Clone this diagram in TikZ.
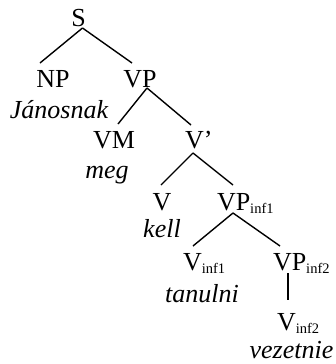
\documentclass[tikz,border=0pt]{standalone}
\usepackage{fontspec}
\setmainfont{Liberation Serif}
\usetikzlibrary{calc}
\newcommand\sbs[1]{\raisebox{-3pt}{\fontsize{14.5}{14.5}\selectfont #1}}
\begin{document}
\begin{tikzpicture}[x=1pt,y=-1pt,
  every node/.style={inner sep=0pt, outer sep=0pt, font=\fontsize{26}{26}\selectfont},
  cat/.style={anchor=base},
  catw/.style={anchor=base west},
  word/.style={anchor=base, font=\fontsize{26}{26}\selectfont\itshape},
  branch/.style={line width=1.4pt}]
\useasboundingbox (0,0) rectangle (335,364);
% categories
\node[cat] (S) at (78.5,26) {S};
\node[cat] (NP) at (53,87) {NP};
\node[cat] (VP) at (140,87) {VP};
\node[cat] (VM) at (114,148) {VM};
\node[catw] (Vp) at (185,148) {V’};
\node[cat] (V) at (162,210) {V};
\node[catw] (VPa) at (217,210) {VP\sbs{inf1}};
\node[catw] (Va) at (183,270) {V\sbs{inf1}};
\node[catw] (VPb) at (273,270) {VP\sbs{inf2}};
\node[catw] (Vb) at (277,330) {V\sbs{inf2}};
% words
\node[word] (w1) at (59,118) {Jánosnak};
\node[word] (w2) at (107,178) {meg};
\node[word] (w3) at (162,237) {kell};
\node[word] (w4) at (202,302) {tanulni};
\node[word] (w5) at (291.5,358) {vezetnie};
% branches
\draw[branch] ($(S.base)+(4,2)$) -- ($(NP.base)+(-13,-24)$);
\draw[branch] ($(S.base)+(4,2)$) -- ($(VP.base)+(-8,-24)$);
\draw[branch] ($(VP.base)+(7,1)$) -- ($(VM.base)+(4,-24)$);
\draw[branch] ($(VP.base)+(7,1)$) -- ($(Vp.base west)+(6,-23)$);
\draw[branch] ($(Vp.base west)+(8,5)$) -- ($(V.base)+(-1,-25)$);
\draw[branch] ($(Vp.base west)+(8,5)$) -- ($(VPa.base west)+(16,-25)$);
\draw[branch] ($(VPa.base west)+(16,3)$) -- ($(Va.base west)+(10,-24)$);
\draw[branch] ($(VPa.base west)+(16,3)$) -- ($(VPb.base west)+(7,-24)$);
\draw[branch] ($(VPb.base west)+(15,3)$) -- ($(Vb.base west)+(11,-30)$);
\end{tikzpicture}
\end{document}
